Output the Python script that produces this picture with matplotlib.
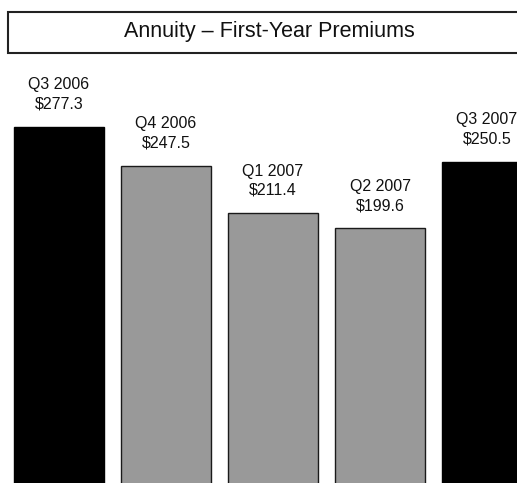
import numpy as np
import matplotlib.pyplot as plt
from matplotlib.patches import Rectangle

# Quarterly first-year annuity premiums ($ millions)
quarters = ['Q3 2006', 'Q4 2006', 'Q1 2007', 'Q2 2007', 'Q3 2007']
premiums = [277.3, 247.5, 211.4, 199.6, 250.5]
colors = ['#000000', '#999999', '#999999', '#999999', '#000000']
edges = ['#000000', '#1a1a1a', '#1a1a1a', '#1a1a1a', '#000000']

plt.rcParams['font.family'] = ['Liberation Sans', 'DejaVu Sans']

fig = plt.figure(figsize=(5.17, 4.83), dpi=100)

# axes run off the bottom and right edges so the bars look cropped
ax = fig.add_axes([0, -7 / 483, 1, 490 / 483])
ax.set_xlim(-0.551, 4.28)
ax.set_ylim(0, 374)
ax.axis('off')

pos = np.arange(len(quarters))
ax.bar(pos, premiums, 0.84, color=colors, edgecolor=edges, linewidth=1.0)

for x, q, v in zip(pos, quarters, premiums):
    ax.annotate(f'{q}\n${v:.1f}', (x, v), xytext=(0, 11), textcoords='offset points',
                ha='center', va='bottom', fontsize=11.5, linespacing=1.35, color='#111111')

# title box across the top
fig.patches.append(Rectangle((8 / 517, 1 - 53 / 483), 1.2, 41 / 483, transform=fig.transFigure,
                             facecolor='white', edgecolor='#222222', linewidth=1.5))
fig.text(269 / 517, 1 - 31 / 483, 'Annuity \u2013 First-Year Premiums',
         ha='center', va='center', fontsize=15.5, color='#111111')

fig.savefig('out.png', dpi=100)
